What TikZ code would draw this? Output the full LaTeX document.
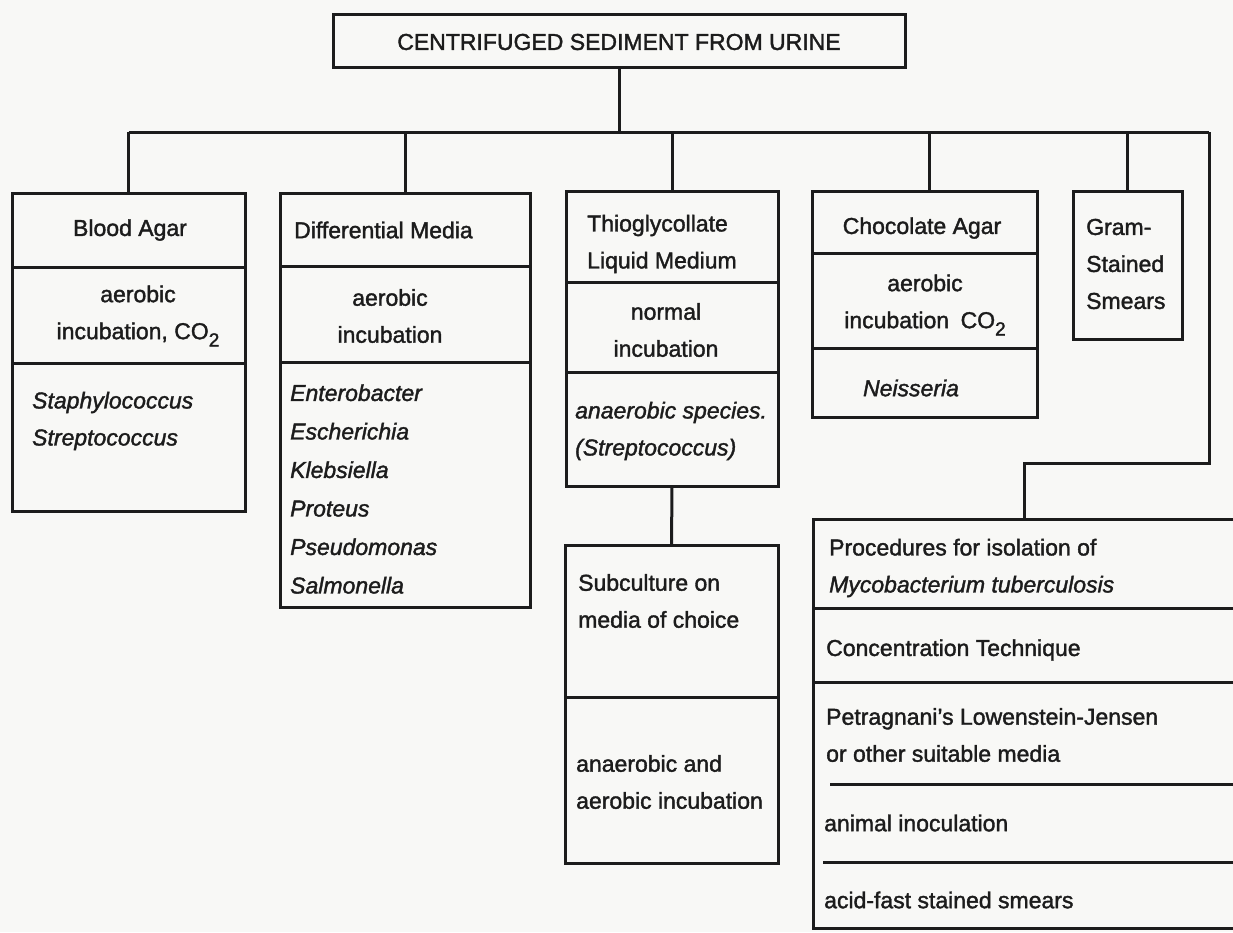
\documentclass[tikz,border=0pt]{standalone}
\usepackage{fontspec}
\setmainfont{Liberation Sans}[
  BoldFont=Liberation Sans, BoldFeatures={FakeBold=1.6},
  BoldItalicFont=Liberation Sans Italic, BoldItalicFeatures={FakeBold=1.6}]
\definecolor{paper}{RGB}{248,248,246}
\definecolor{ink}{RGB}{28,28,28}
\newcommand\subtwo{\raisebox{-0.32em}{\fontsize{19}{19}\selectfont 2}}
\tikzset{
  box/.style={draw=ink, line width=3pt, rectangle, inner sep=0pt, outer sep=0pt, anchor=north west},
  wire/.style={draw=ink, line width=3pt},
  rule/.style={draw=ink, line width=3pt},
  lbl/.style={inner sep=0pt, text=ink, font=\fontsize{23}{37}\selectfont\bfseries},
  lblc/.style={lbl, align=center},
  lbll/.style={lbl, align=left, anchor=west},
}
\begin{document}
\begin{tikzpicture}[x=1pt, y=-1pt]
\useasboundingbox (0,0) rectangle (1233,932);
\fill[paper] (0,0) rectangle (1233,932);
\clip (0,0) rectangle (1233,932);

% boxes
\node[box, minimum width=572pt, minimum height=53pt]  (title) at (333,14)  {};
\node[box, minimum width=233pt, minimum height=318pt] (blood) at (12,193)  {};
\node[box, minimum width=250pt, minimum height=414pt] (diff)  at (280,193) {};
\node[box, minimum width=212pt, minimum height=295pt] (thio)  at (566,191) {};
\node[box, minimum width=225pt, minimum height=226pt] (choc)  at (812,191) {};
\node[box, minimum width=109pt, minimum height=148pt] (gram)  at (1073,191) {};
\node[box, minimum width=213pt, minimum height=318pt] (sub)   at (565,545) {};
\node[box, minimum width=447pt, minimum height=409pt] (proc)  at (813,519) {};

% dividers inside the boxes
\draw[rule] (12,267) -- (245,267);
\draw[rule] (12,363) -- (245,363);
\draw[rule] (280,266) -- (530,266);
\draw[rule] (280,362) -- (530,362);
\draw[rule] (566,282) -- (778,282);
\draw[rule] (566,372) -- (778,372);
\draw[rule] (812,253) -- (1037,253);
\draw[rule] (812,348) -- (1037,348);
\draw[rule] (565,697) -- (778,697);
\draw[rule] (813,608) -- (1233,608);
\draw[rule] (813,682) -- (1233,682);
\draw[rule] (830,784) -- (1233,784);
\draw[rule] (823,862) -- (1233,862);

% connectors
\coordinate (bus) at (619,132);
\coordinate (rc)  at (1209,132);
\coordinate (jog) at (1024,463);
\draw[wire] (title.south) -- (title.south |- bus);
\draw[wire] (blood.north |- bus) -- (rc);
\draw[wire] (blood.north) -- (blood.north |- bus);
\draw[wire] (diff.north) -- (diff.north |- bus);
\draw[wire] (thio.north) -- (thio.north |- bus);
\draw[wire] ([xshift=5pt]choc.north) -- ([xshift=5pt]choc.north |- bus);
\draw[wire] (gram.north) -- (gram.north |- bus);
\draw[wire] (rc) -- (rc |- jog) -- (jog) -- (jog |- proc.north);
\draw[wire] (thio.south) -- (sub.north);

% labels
\node[lblc] (t0) at (619,42) {CENTRIFUGED SEDIMENT FROM URINE};

\node[lblc] (b1) at (130,230) {Blood Agar};
\node[lblc] (b2) at (138,316) {aerobic\\incubation, CO\subtwo};
\node[lbll] (b3) at (32,421) {\itshape Staphylococcus\\\itshape Streptococcus};

\node[lbll] (d1) at (294,230) {Differential Media};
\node[lblc] (d2) at (390,316) {aerobic\\incubation};
\node[lbll, font=\fontsize{23}{38.5}\selectfont\bfseries\itshape] (d3) at (290,489)
  {Enterobacter\\Escherichia\\Klebsiella\\Proteus\\Pseudomonas\\Salmonella};

\node[lbll] (h1) at (587,244) {Thioglycollate\\Liquid Medium};
\node[lblc] (h2) at (666,330) {normal\\incubation};
\node[lbll] (h3) at (575,431) {\itshape anaerobic species.\\\itshape (Streptococcus)};

\node[lblc] (c1) at (922,228) {Chocolate Agar};
\node[lblc] (c2) at (925,305) {aerobic\\incubation\enspace CO\subtwo};
\node[lblc] (c3) at (911,388) {\itshape Neisseria};

\node[lbll] (g1) at (1086,264) {Gram-\\Stained\\Smears};

\node[lbll] (s1) at (578,601) {Subculture on\\media of choice};
\node[lbll] (s2) at (576,782) {anaerobic and\\aerobic incubation};

\node[lbll] (p1) at (829,568) {Procedures for isolation of\\\itshape Mycobacterium tuberculosis};
\node[lbll] (p2) at (826,650) {Concentration Technique};
\node[lbll] (p3) at (826,735) {Petragnani's Lowenstein-Jensen\\or other suitable media};
\node[lbll] (p4) at (824,823) {animal inoculation};
\node[lbll] (p5) at (824,900) {acid-fast stained smears};
\end{tikzpicture}
\end{document}
